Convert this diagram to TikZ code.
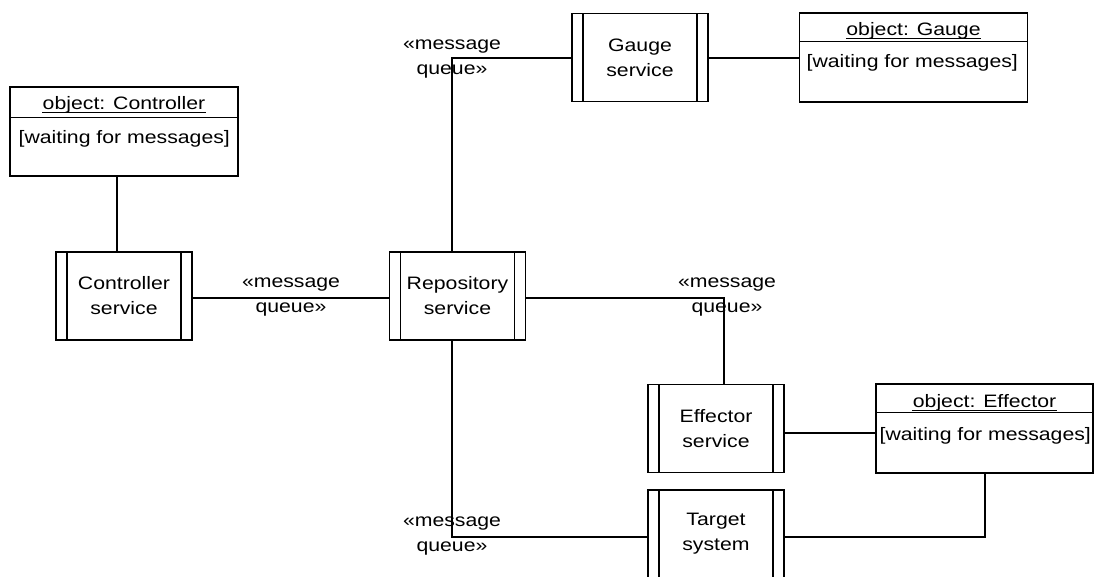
\documentclass[tikz,border=0pt]{standalone}
\usepackage{fontspec}
\setmainfont[FakeStretch=1.18]{Liberation Sans}
\begin{document}
\begin{tikzpicture}[x=1pt,y=-1pt,line width=1.2pt,
  every node/.style={font=\fontsize{18}{25}\selectfont, inner sep=0pt},
  svc/.style={draw, rectangle, minimum width=136pt, minimum height=88pt, align=center,
    path picture={\draw[line width=1.2pt] ([xshift=11pt]path picture bounding box.north west) -- ([xshift=11pt]path picture bounding box.south west);
                  \draw[line width=1.2pt] ([xshift=-11pt]path picture bounding box.north east) -- ([xshift=-11pt]path picture bounding box.south east);}},
  obj/.style={draw, rectangle, minimum width=228pt, minimum height=89pt},
  ttl/.style={anchor=base},
  body/.style={anchor=base west},
  mq/.style={align=center},
  ul/.style={line width=1pt}
]
\useasboundingbox (0,0) rectangle (1095,576);
\clip (0,0) rectangle (1095,576);
% objects
\node[obj] (cobj) at (124,131.5) {};
\draw (cobj.north west) ++(0,31) coordinate (cdl) -- (cobj.north east |- cdl);
\node[ttl] (cttl) at (124,109) {object: Controller};
\draw[ul] ([yshift=-3pt]cttl.base west) -- ([yshift=-3pt]cttl.base east);
\node[body] (cbody) at (18,143) {[waiting for messages]};

\node[obj] (gobj) at (913.5,57.5) {};
\draw (gobj.north west) ++(0,29) coordinate (gdl) -- (gobj.north east |- gdl);
\node[ttl] (gttl) at (913.5,35.5) {object: Gauge};
\draw[ul] ([yshift=-3pt]gttl.base west) -- ([yshift=-3pt]gttl.base east);
\node[body] (gbody) at (806,67) {[waiting for messages]};

\node[obj, minimum width=217pt] (eobj) at (984.5,428.5) {};
\draw (eobj.north west) ++(0,29) coordinate (edl) -- (eobj.north east |- edl);
\node[ttl] (ettl) at (984.5,407.5) {object: Effector};
\draw[ul] ([yshift=-3pt]ettl.base west) -- ([yshift=-3pt]ettl.base east);
\node[body] (ebody) at (879,440) {[waiting for messages]};

% services
\node[svc] (csvc) at (124,296) {Controller\\service};
\node[svc] (rsvc) at (457.5,296) {Repository\\service};
\node[svc] (gsvc) at (640,57.5) {Gauge\\service};
\node[svc] (esvc) at (716,428.5) {Effector\\service};
\node[svc] (tsvc) at (716,534) {Target\\system};

% connectors
\draw (cobj.south -| 117,0) -- (csvc.north -| 117,0);
\draw (csvc.east |- 0,298) -- (rsvc.west |- 0,298);
\draw (rsvc.north -| 452,0) |- (gsvc.west |- 0,58);
\draw (gsvc.east |- 0,58) -- (gobj.west |- 0,58);
\draw (rsvc.east |- 0,298) -| (esvc.north -| 724,0);
\draw (esvc.east |- 0,433) -- (eobj.west |- 0,433);
\draw (rsvc.south -| 452,0) |- (tsvc.west |- 0,537);
\draw (eobj.south -| 985,0) |- (tsvc.east |- 0,537);

% labels
\node[mq] (m1) at (291,297) {«message\\queue»};
\node[mq] (m2) at (452,59) {«message\\queue»};
\node[mq] (m3) at (727,297) {«message\\queue»};
\node[mq] (m4) at (452,536) {«message\\queue»};
\end{tikzpicture}
\end{document}
